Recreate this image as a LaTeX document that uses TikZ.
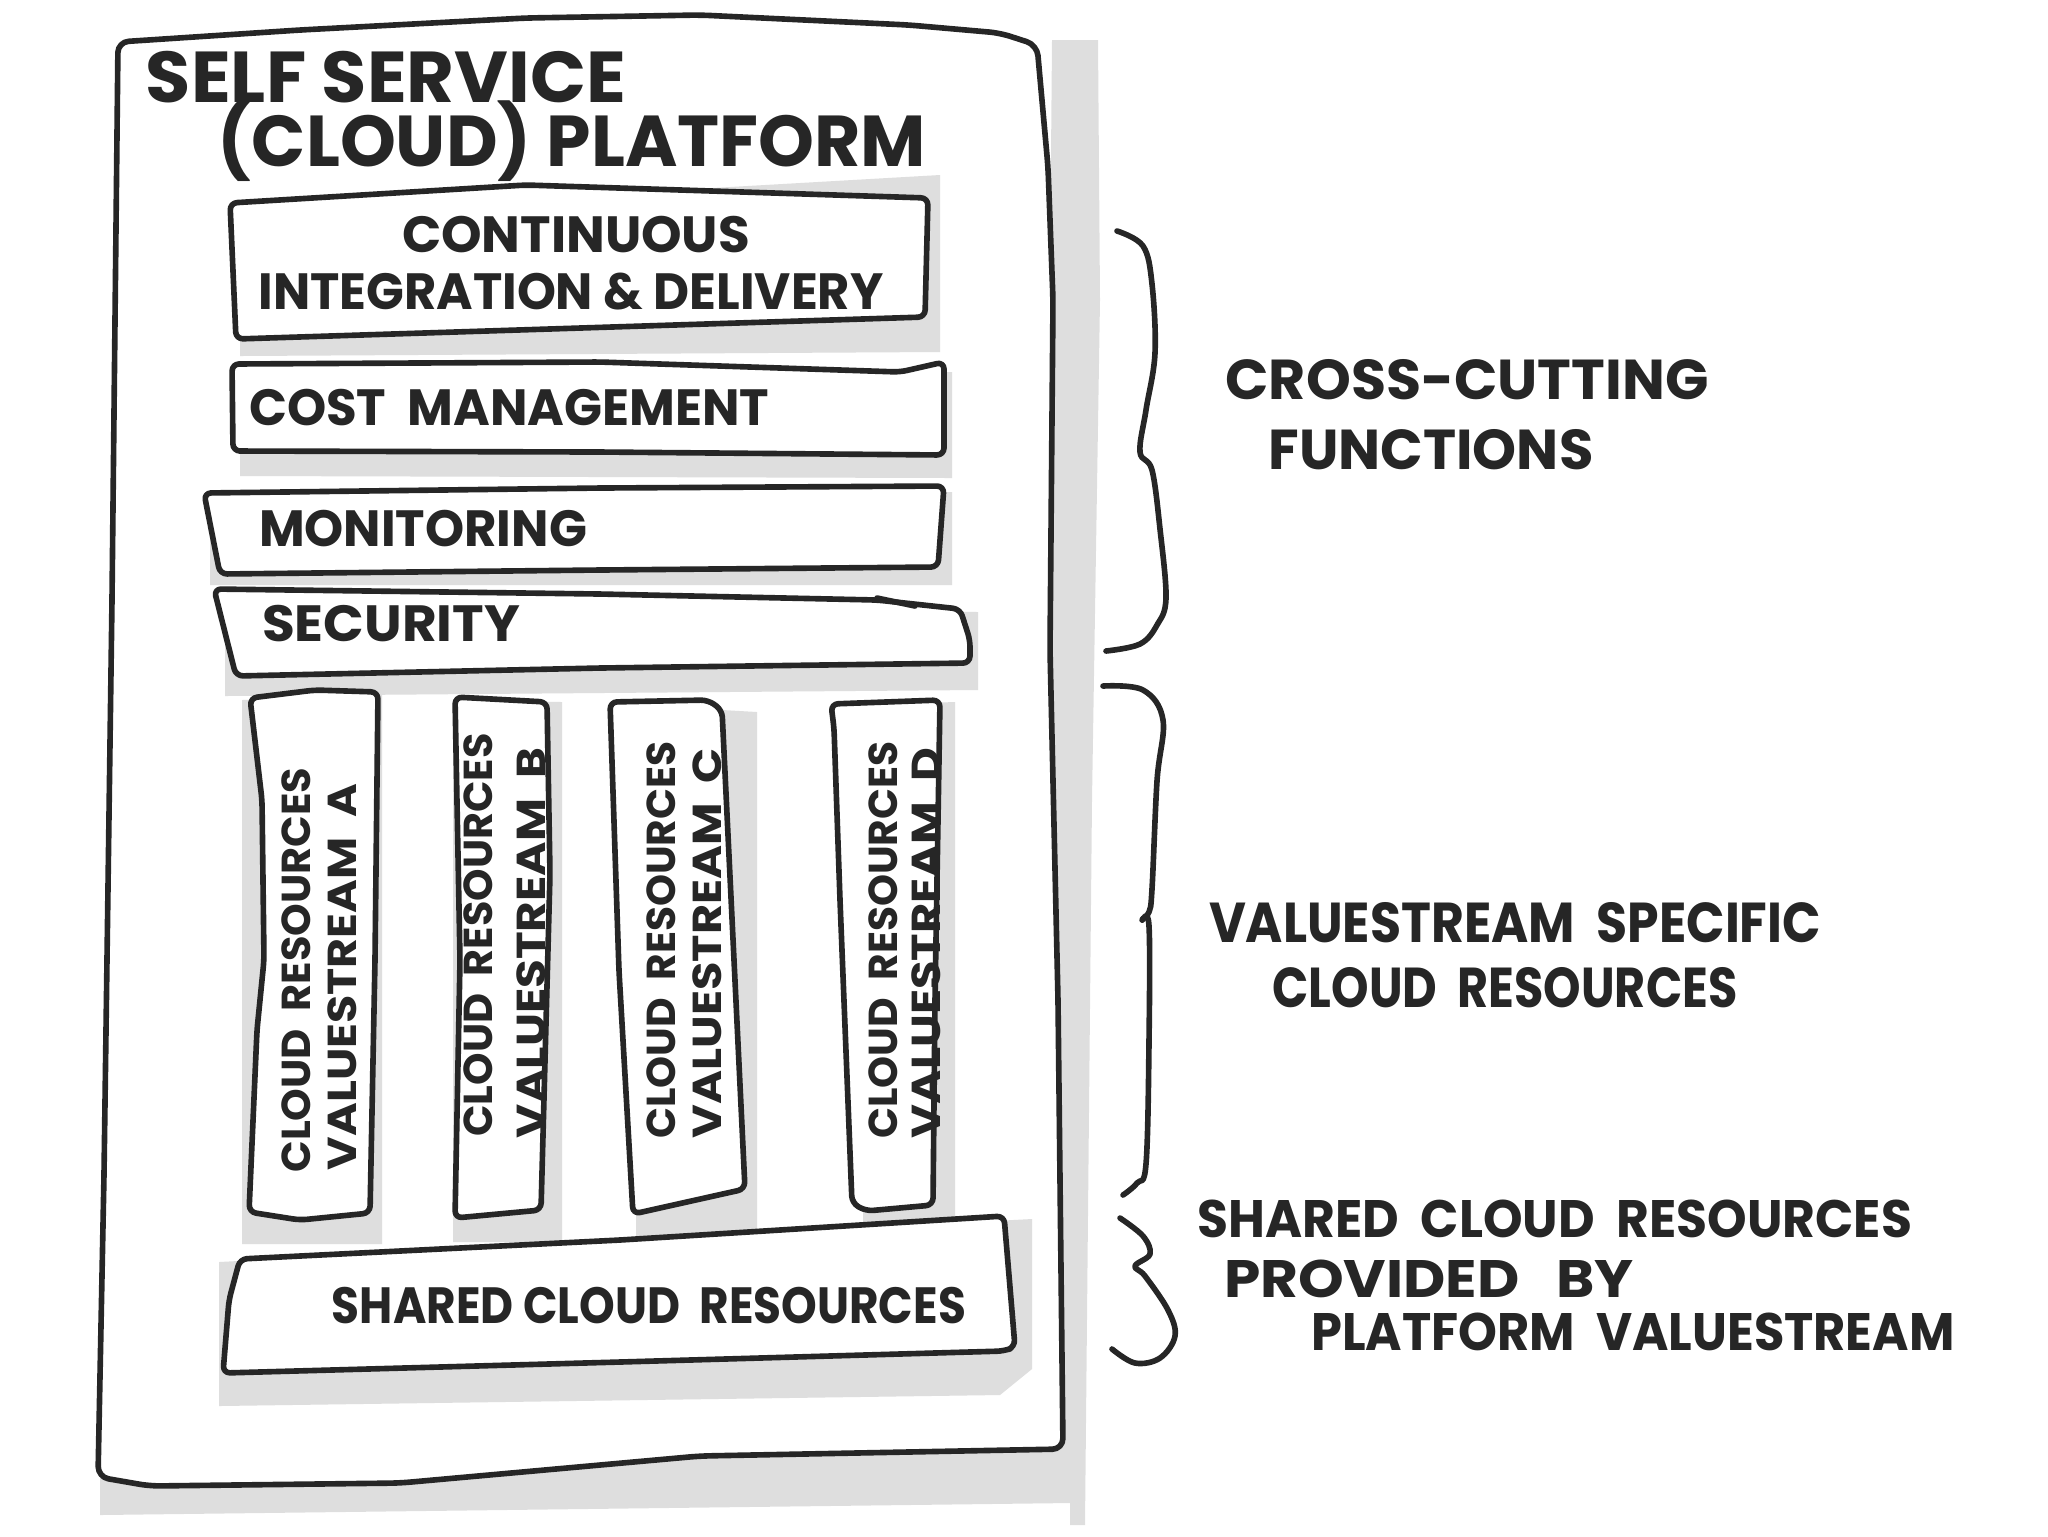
\documentclass[tikz,border=0pt]{standalone}
\usepackage{fontspec}
\setmainfont{Poppins}
\usepackage{graphicx}
\definecolor{inkc}{HTML}{262626}
\definecolor{shadowc}{HTML}{DEDEDE}
\newlength\pxu
\setlength\pxu{0.1mm}
\newcommand\fitw[2]{\resizebox{#1\pxu}{\height}{#2}}

\begin{document}
\begin{tikzpicture}[x=0.1mm,y=-0.1mm,
  ink/.style={draw=inkc,line width=1.6pt,line cap=round,line join=round},
  panel/.style={ink,fill=white,rounded corners=2pt},
  shadow/.style={fill=shadowc},
  handtxt/.style={inner sep=0pt,text=inkc},
  titletxt/.style={handtxt,font=\fontsize{20.5}{25}\selectfont\bfseries},
  boxtxt/.style={handtxt,font=\fontsize{14.5}{17}\selectfont\bfseries},
  stacktxt/.style={handtxt,rotate=90,font=\fontsize{11.5}{14}\selectfont\bfseries},
  notetxt/.style={handtxt,font=\fontsize{16}{19}\selectfont\bfseries}]
\useasboundingbox (0,0) rectangle (2048,1536);
%
% platform frame and its shadow
\fill[shadow] (1052,40) -- (1098,40) -- (1100,300) -- (1092,800) -- (1085,1525) -- (1070,1525) -- (1070,1503) -- (100,1515) -- (100,1470) -- (1040,1440) -- cycle;
\draw[ink,fill=white,rounded corners=3pt] (118,42) -- (300,30) -- (526,18) -- (700,15) -- (909,25) -- (1000,33) -- (1037,45) -- (1048,167) -- (1053,300) -- (1050,650) -- (1058,1000) -- (1063,1449) -- (700,1456) -- (400,1483) -- (150,1486) -- (98,1477) -- (104,1175) -- (112,600) -- cycle;
\node[titletxt,anchor=base] (title1) at (386,102) {\fitw{480}{SELF SERVICE}};
\node[titletxt,anchor=base] (title2) at (572,166) {\fitw{708}{(CLOUD) PLATFORM}};
%%
% shadows of the boxes
\fill[shadow] (240,215) -- (940,175) -- (940,352) -- (240,356) -- cycle;
\fill[shadow] (240,372) -- (952,372) -- (952,478) -- (240,476) -- cycle;
\fill[shadow] (210,500) -- (952,492) -- (952,585) -- (210,585) -- cycle;
\fill[shadow] (225,600) -- (978,612) -- (978,690) -- (225,696) -- cycle;
\fill[shadow] (242,700) -- (382,695) -- (382,1244) -- (242,1244) -- cycle;
\fill[shadow] (453,700) -- (562,702) -- (562,1242) -- (453,1242) -- cycle;
\fill[shadow] (636,705) -- (757,712) -- (757,1237) -- (636,1237) -- cycle;
\fill[shadow] (863,705) -- (955,702) -- (955,1242) -- (863,1242) -- cycle;
\fill[shadow] (219,1262) -- (1032,1219) -- (1032,1369) -- (1000,1395) -- (219,1406) -- cycle;
%%
% cross-cutting boxes
\draw[panel] (230,203) -- (526,185) -- (928,198) -- (925,317) -- (236,339) -- cycle;
\draw[panel] (232,364) -- (600,362) -- (900,372) -- (944,362) -- (944,455) -- (600,452) -- (233,451) -- cycle;
\draw[panel] (204,493) -- (600,488) -- (944,486) -- (938,567) -- (600,570) -- (220,574) -- cycle;
\draw[panel] (214,589) -- (600,594) -- (877,600) -- (960,609) -- (970,640) -- (970,663) -- (600,668) -- (236,676) -- cycle;
\draw[ink] (877,598) -- (915,606);
%
\node[boxtxt] (ci1) at (576,235) {\fitw{348}{CONTINUOUS}};
\node[boxtxt] (ci2) at (571,292) {\fitw{625}{INTEGRATION \& DELIVERY}};
\node[boxtxt] (cost) at (509,408) {\fitw{520}{COST\ \ MANAGEMENT}};
\node[boxtxt] (mon) at (423,529) {\fitw{328}{MONITORING}};
\node[boxtxt] (sec) at (391,624) {\fitw{258}{SECURITY}};
%%
% valuestream columns
\draw[panel] (250,698) -- (315,690) -- (378,692) -- (375,960) -- (370,1213) -- (300,1220) -- (249,1212) -- (257,1030) -- (264,960) -- (262,800) -- cycle;
\draw[panel] (455,697) -- (547,702) -- (550,874) -- (541,1210) -- (455,1218) -- (460,960) -- cycle;
\draw[panel] (610,702) -- (708,700) -- (722,710) -- (745,1189) -- (633,1214) -- (619,971) -- cycle;
\draw[panel] (831,704) -- (940,700) -- (935,1000) -- (933,1205) -- (866,1211) -- (852,1203) -- (840,900) -- (834,728) -- cycle;
%
\node[stacktxt] (crA) at (296,970) {\fitw{405}{CLOUD\ \ RESOURCES}};
\node[stacktxt] (vsA) at (342,977) {\fitw{386}{VALUESTREAM\ \ A}};
\node[stacktxt] (crB) at (478,935) {\fitw{403}{CLOUD\ \ RESOURCES}};
\node[stacktxt] (vsB) at (531,943) {\fitw{390}{VALUESTREAM\ \ B}};
\node[stacktxt] (crC) at (661,940) {\fitw{397}{CLOUD\ \ RESOURCES}};
\node[stacktxt] (vsC) at (707,943) {\fitw{390}{VALUESTREAM\ \ C}};
\node[stacktxt] (crD) at (883,940) {\fitw{397}{CLOUD\ \ RESOURCES}};
\node[stacktxt] (vsD) at (926,943) {\fitw{390}{VALUESTREAM\ \ D}};
%%
% shared resources
\draw[panel] (240,1259) -- (620,1240) -- (1004,1216) -- (1015,1347) -- (1004,1351) -- (620,1362) -- (223,1373) -- (229,1300) -- cycle;
\node[boxtxt] (shared) at (649,1306) {\fitw{634}{SHARED CLOUD\ \ RESOURCES}};
%%
% braces
\draw[ink] plot[smooth,tension=0.6] coordinates {(1117,231) (1143,246) (1152,284) (1155,353) (1146,410) (1140,452) (1152,470) (1160,529) (1166,598) (1157,625) (1140,644) (1106,651)};
\draw[ink] plot[smooth,tension=0.6] coordinates {(1103,686) (1143,690) (1163,720) (1157,781) (1152,889) (1149,912) (1142,920) (1149,926) (1149,1042) (1146,1164) (1137,1183) (1123,1195)};
\draw[ink] plot[smooth,tension=0.6] coordinates {(1120,1218) (1143,1236) (1150,1254) (1135,1266) (1145,1276) (1168,1310) (1175,1336) (1160,1358) (1135,1363) (1112,1349)};
%
\node[notetxt] (cc1) at (1467,380) {\fitw{483}{CROSS-CUTTING}};
\node[notetxt] (cc2) at (1431,450) {\fitw{325}{FUNCTIONS}};
\node[notetxt] (vs1) at (1515,923) {\fitw{612}{VALUESTREAM\ \ SPECIFIC}};
\node[notetxt] (vs2) at (1505,988) {\fitw{465}{CLOUD\ \ RESOURCES}};
\node[notetxt,font=\fontsize{15}{18}\selectfont\bfseries] (sh1) at (1555,1219) {\fitw{714}{SHARED\ \ CLOUD\ \ RESOURCES}};
\node[notetxt,font=\fontsize{15}{18}\selectfont\bfseries] (sh2) at (1429,1279) {\fitw{410}{PROVIDED\ \ \ BY}};
\node[notetxt,font=\fontsize{15}{18}\selectfont\bfseries] (sh3) at (1633,1332) {\fitw{643}{PLATFORM\ \ VALUESTREAM}};
\end{tikzpicture}
\end{document}
